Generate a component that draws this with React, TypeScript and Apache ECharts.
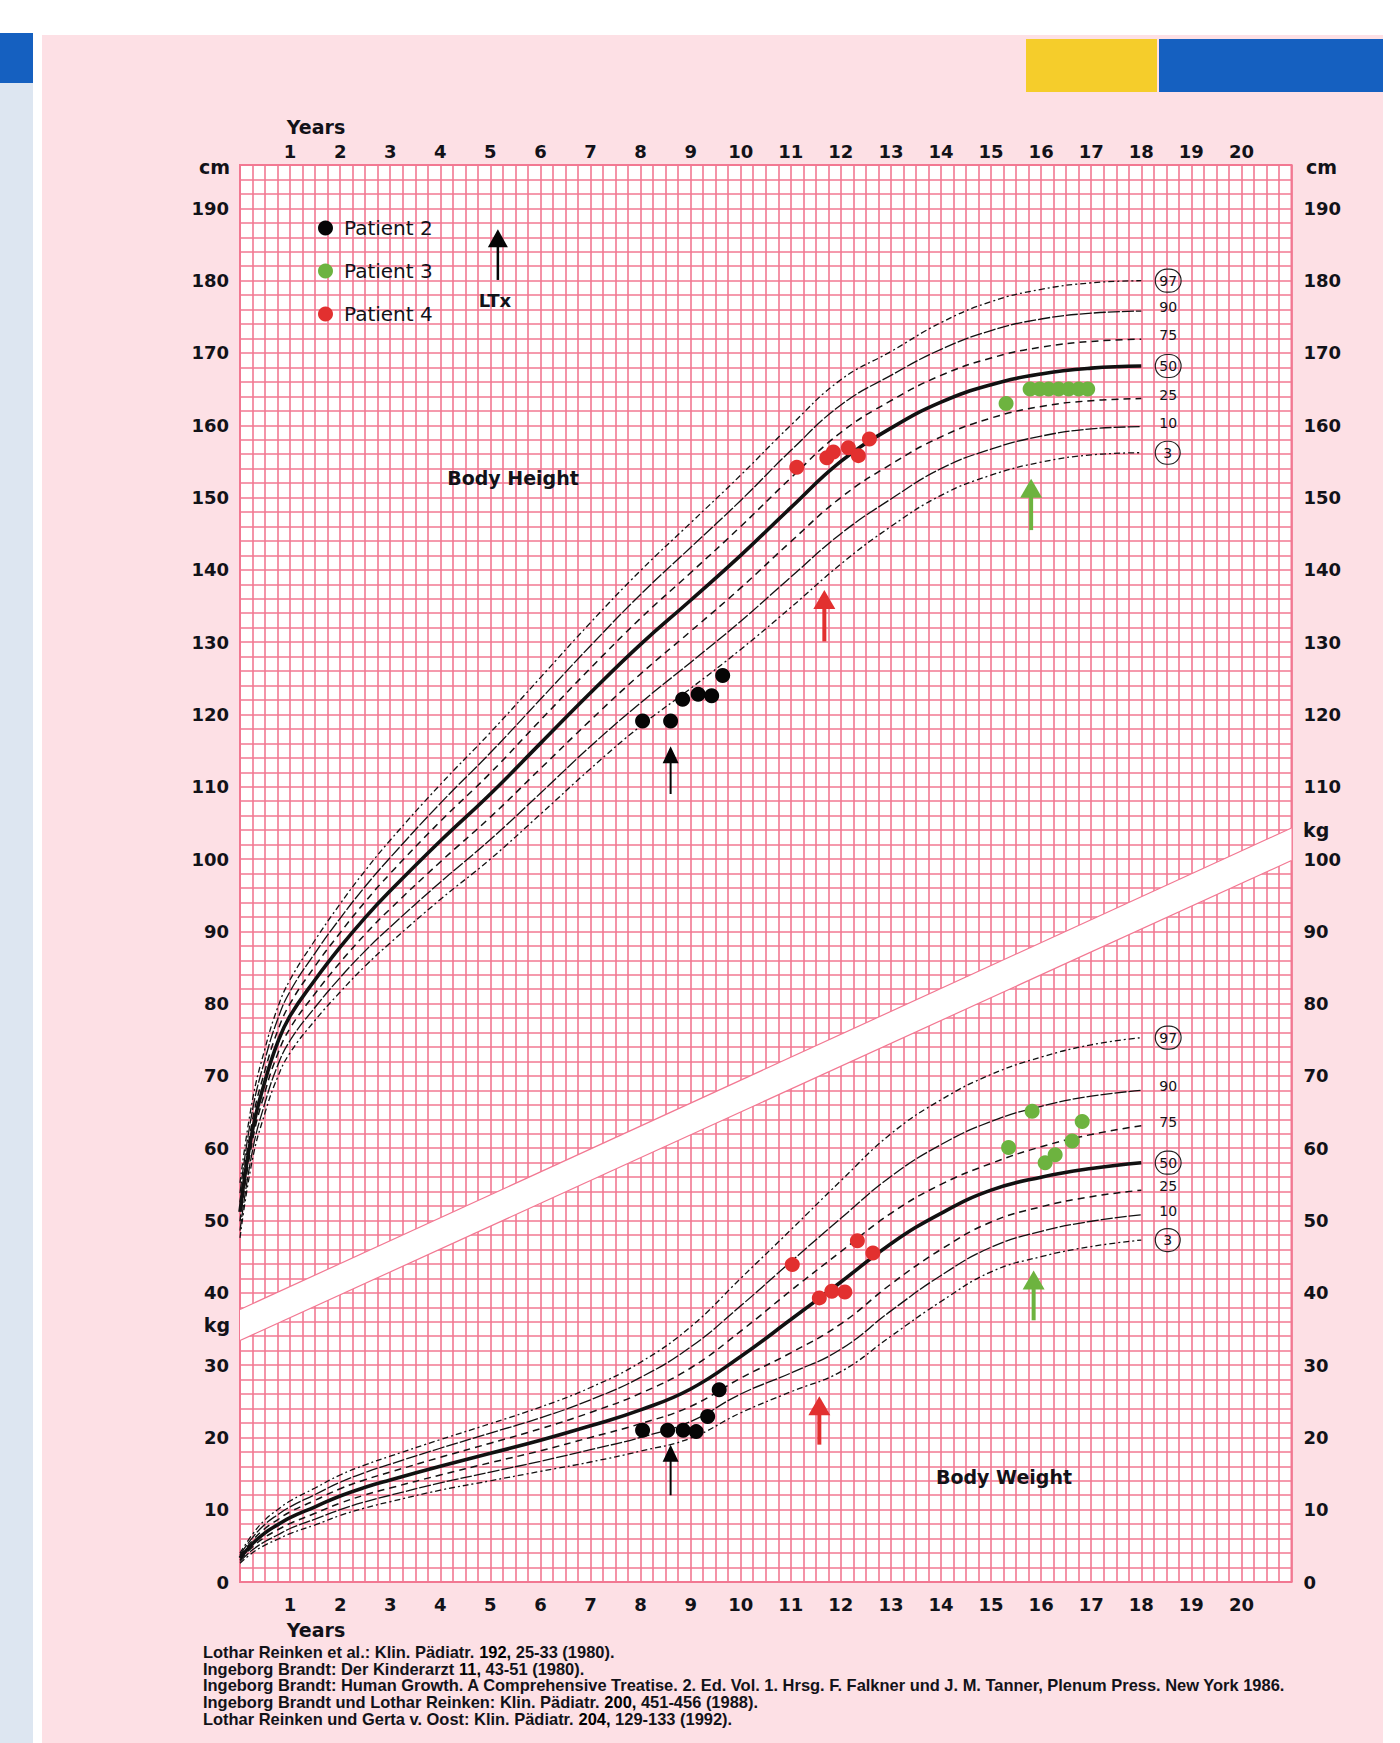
import { useEffect, useRef } from "react";
import * as echarts from "echarts";

// Ages (years) at which the reference percentile curves are tabulated
const AGES = [0, 0.25, 0.5, 0.75, 1, 1.5, 2, 2.5, 3, 4, 5, 6, 7, 8, 9, 10, 11, 12, 13, 14, 15, 16, 17, 18];

// Body height percentiles (cm)
const HEIGHT_P97 = [55.2, 66.7, 73.8, 79.4, 83.3, 88.8, 93.8, 98.4, 102.6, 110.3, 117.5, 125.1, 132.7, 139.9, 146.5, 153.1, 160.0, 166.3, 170.2, 174.2, 177.1, 178.8, 179.7, 180.0];
const HEIGHT_P90 = [53.8, 65.3, 72.3, 77.8, 81.7, 87.0, 91.8, 96.2, 100.2, 107.7, 114.7, 122.1, 129.5, 136.6, 143.1, 149.6, 156.5, 162.8, 166.9, 170.5, 173.1, 174.7, 175.5, 175.8];
const HEIGHT_P75 = [52.5, 63.9, 70.8, 76.2, 80.0, 85.2, 89.8, 94.1, 98.0, 105.2, 111.9, 119.2, 126.4, 133.3, 139.6, 146.0, 152.7, 159.0, 163.4, 166.9, 169.3, 170.8, 171.6, 171.9];
const HEIGHT_P50 = [51.2, 62.5, 69.3, 74.6, 78.3, 83.3, 87.8, 91.9, 95.6, 102.5, 109.0, 116.0, 123.0, 129.7, 135.8, 142.0, 148.6, 155.0, 159.6, 163.2, 165.6, 167.1, 167.9, 168.2];
const HEIGHT_P25 = [49.9, 61.1, 67.8, 73.0, 76.6, 81.4, 85.7, 89.6, 93.1, 99.6, 105.8, 112.5, 119.2, 125.6, 131.5, 137.5, 143.9, 150.0, 154.6, 158.4, 161.0, 162.6, 163.4, 163.7];
const HEIGHT_P10 = [48.6, 59.7, 66.3, 71.4, 74.9, 79.5, 83.6, 87.3, 90.6, 96.8, 102.7, 109.1, 115.6, 121.6, 127.2, 132.9, 139.0, 145.0, 149.8, 154.0, 156.7, 158.5, 159.5, 159.8];
const HEIGHT_P3 = [47.6, 58.5, 64.9, 69.8, 73.2, 77.7, 81.6, 85.2, 88.4, 94.4, 100.0, 106.2, 112.5, 118.4, 123.6, 129.0, 134.8, 140.8, 146.0, 150.3, 153.1, 154.9, 155.9, 156.2];

// Body weight percentiles (kg)
const WEIGHT_P97 = [4.0, 6.6, 8.6, 10.0, 11.2, 13.0, 14.8, 16.2, 17.4, 19.7, 21.9, 24.2, 26.9, 30.4, 35.3, 42.0, 48.7, 55.5, 62.0, 66.7, 70.2, 72.6, 74.3, 75.3];
const WEIGHT_P90 = [3.75, 6.15, 8.0, 9.3, 10.4, 12.1, 13.8, 15.15, 16.3, 18.5, 20.6, 22.7, 25.2, 28.3, 32.5, 38.2, 44.3, 50.3, 56.1, 60.5, 63.7, 65.8, 67.2, 68.0];
const WEIGHT_P75 = [3.55, 5.75, 7.4, 8.6, 9.7, 11.3, 12.9, 14.15, 15.2, 17.25, 19.2, 21.2, 23.45, 26.1, 29.6, 34.7, 40.3, 45.7, 51.0, 55.0, 57.9, 60.2, 61.9, 63.1];
const WEIGHT_P50 = [3.3, 5.3, 6.8, 7.9, 8.9, 10.4, 11.9, 13.1, 14.1, 16.0, 17.8, 19.6, 21.6, 23.8, 26.7, 31.2, 36.3, 41.5, 46.8, 51.0, 54.2, 56.0, 57.2, 58.0];
const WEIGHT_P25 = [3.05, 4.85, 6.2, 7.2, 8.1, 9.5, 10.9, 12.05, 13.0, 14.8, 16.5, 18.15, 20.0, 21.9, 24.3, 28.2, 31.7, 35.7, 41.2, 46.0, 49.8, 51.9, 53.3, 54.2];
const WEIGHT_P10 = [2.85, 4.45, 5.6, 6.5, 7.4, 8.7, 10.0, 11.1, 12.0, 13.7, 15.2, 16.7, 18.3, 20.0, 22.2, 26.0, 28.9, 32.2, 37.5, 42.4, 46.3, 48.5, 49.9, 50.8];
const WEIGHT_P3 = [2.6, 4.05, 5.1, 5.9, 6.7, 7.9, 9.2, 10.25, 11.1, 12.7, 14.0, 15.3, 16.6, 18.1, 19.9, 23.4, 26.3, 29.1, 34.0, 38.8, 42.9, 45.0, 46.4, 47.3];

const PERCENTILES = ["97", "90", "75", "50", "25", "10", "3"];
const CIRCLED = ["97", "50", "3"];

// Patient measurements: [age, value]
const PATIENT2_HEIGHT_AGE = [8.04, 8.6, 8.84, 9.15, 9.42, 9.64];
const PATIENT2_HEIGHT = [119.1, 119.1, 122.1, 122.8, 122.6, 125.4];
const PATIENT2_WEIGHT_AGE = [8.04, 8.54, 8.85, 9.11, 9.34, 9.57];
const PATIENT2_WEIGHT = [21.0, 21.0, 21.0, 20.8, 22.9, 26.6];

const PATIENT3_HEIGHT_AGE = [15.3, 15.78, 15.97, 16.15, 16.35, 16.55, 16.75, 16.93];
const PATIENT3_HEIGHT = [163.0, 165.0, 165.0, 165.0, 165.0, 165.0, 165.0, 165.0];
const PATIENT3_WEIGHT_AGE = [15.35, 15.82, 16.08, 16.28, 16.62, 16.82];
const PATIENT3_WEIGHT = [60.1, 65.1, 58.0, 59.1, 61.0, 63.7];

const PATIENT4_HEIGHT_AGE = [11.12, 11.72, 11.85, 12.15, 12.35, 12.57];
const PATIENT4_HEIGHT = [154.2, 155.5, 156.3, 156.9, 155.8, 158.1];
const PATIENT4_WEIGHT_AGE = [11.03, 11.57, 11.82, 12.08, 12.33, 12.64];
const PATIENT4_WEIGHT = [43.9, 39.3, 40.2, 40.1, 47.2, 45.5];

// Transplantation (LTx) markers: [age, tip value, tail value]
const PATIENT2_LTX = [[8.6, 115.6, 109.0], [8.6, 19.0, 12.0]];
const PATIENT3_LTX = [[15.8, 152.6, 145.5], [15.85, 43.1, 36.2]];
const PATIENT4_LTX = [[11.67, 137.2, 130.1], [11.57, 25.7, 19.0]];
const KEY_LTX = [[5.15, 187.1, 180.1]];

// White separator band between the height and weight panels: [age, value]
const BAND_LOWER = [[0, 33.4], [21, 99.8]];
const BAND_UPPER = [[0, 37.7], [21, 104.3]];

const CITATIONS = [
  "Lothar Reinken et al.: Klin. Pädiatr. {b|192,} 25-33 (1980).",
  "Ingeborg Brandt: Der Kinderarzt {b|11,} 43-51 (1980).",
  "Ingeborg Brandt: Human Growth. A Comprehensive Treatise. 2. Ed. Vol. 1. Hrsg. F. Falkner und J. M. Tanner, Plenum Press. New York 1986.",
  "Ingeborg Brandt und Lothar Reinken: Klin. Pädiatr. {b|200,} 451-456 (1988).",
  "Lothar Reinken und Gerta v. Oost: Klin. Pädiatr. {b|204,} 129-133 (1992).",
];

const PINK = "#f27892";
const INK = "#121218";
const FONT = '"DejaVu Sans", "Liberation Sans", sans-serif';
const CITE_FONT = '"Liberation Sans", Arial, sans-serif';

const BLACK = "#050505";
const GREEN = "#6db33f";
const RED = "#e2302f";

function pairs(xs: number[], ys: number[]) {
  return xs.map((x, i) => [x, ys[i]]);
}

function curveStyle(p: string) {
  if (p === "50") return { width: 3.6, type: "solid" };
  if (p === "90" || p === "10") return { width: 1.3, type: [12, 2] };
  if (p === "75" || p === "25") return { width: 1.5, type: [7, 5] };
  return { width: 1.3, type: [6, 3, 2, 3] };
}

function percentileSeries(kind: string, curves: number[][]) {
  return curves.map((vals, i) => {
    const p = PERCENTILES[i];
    const circled = CIRCLED.includes(p);
    const label: any = {
      show: true,
      formatter: p,
      fontFamily: FONT,
      fontSize: 14,
      color: INK,
      distance: circled ? 14 : 18,
      offset: circled ? [0, 0] : [0, -4],
    };
    if (circled) {
      label.borderColor = "#222";
      label.borderWidth = 1.2;
      label.borderRadius = 13;
      label.padding = p.length === 1 ? [5, 8, 4, 8] : [5, 4, 4, 4];
    }
    return {
      type: "line",
      name: `${kind} P${p}`,
      data: pairs(AGES, vals),
      showSymbol: false,
      smooth: 0.45,
      silent: true,
      z: 3,
      lineStyle: { color: "#111", ...curveStyle(p) },
      endLabel: label,
    };
  });
}

function patientSeries(name: string, color: string, data: number[][]) {
  return {
    type: "scatter",
    name,
    data,
    symbol: "circle",
    symbolSize: 15,
    itemStyle: { color, opacity: 1 },
    z: 5,
    silent: true,
  };
}

function arrowSeries(name: string, arrows: number[][], color: string, shaft: number, headW: number, headH: number) {
  return {
    type: "custom",
    name,
    data: arrows,
    encode: { x: 0, y: [1, 2] },
    silent: true,
    z: 6,
    renderItem: (_params: any, api: any) => {
      const tip = api.coord([api.value(0), api.value(1)]);
      const tail = api.coord([api.value(0), api.value(2)]);
      return {
        type: "group",
        children: [
          {
            type: "line",
            shape: { x1: tail[0], y1: tail[1], x2: tip[0], y2: tip[1] + headH * 0.8 },
            style: { stroke: color, lineWidth: shaft },
          },
          {
            type: "polygon",
            shape: {
              points: [
                [tip[0], tip[1]],
                [tip[0] - headW / 2, tip[1] + headH],
                [tip[0] + headW / 2, tip[1] + headH],
              ],
            },
            style: { fill: color },
          },
        ],
      };
    },
  };
}

function bandSeries() {
  return {
    type: "custom",
    name: "separator",
    data: [[0, 35]],
    encode: { x: 0, y: 1 },
    silent: true,
    z: 2,
    renderItem: (_params: any, api: any) => {
      const a = api.coord(BAND_LOWER[0]);
      const b = api.coord(BAND_LOWER[1]);
      const c = api.coord(BAND_UPPER[1]);
      const d = api.coord(BAND_UPPER[0]);
      return {
        type: "group",
        children: [
          { type: "polygon", shape: { points: [a, b, c, d] }, style: { fill: "#ffffff" } },
          { type: "line", shape: { x1: a[0], y1: a[1], x2: b[0], y2: b[1] }, style: { stroke: PINK, lineWidth: 1.2 } },
          { type: "line", shape: { x1: d[0], y1: d[1], x2: c[0], y2: c[1] }, style: { stroke: PINK, lineWidth: 1.2 } },
        ],
      };
    },
  };
}

const yearLabel = (v: number) => (Number.isInteger(v) && v >= 1 && v <= 20 ? String(v) : "");
const valueLabel = (v: number) => (v % 10 === 0 && v <= 190 ? String(v) : "");

function text(x: number, y: number, t: string, opts: any = {}) {
  return {
    type: "text",
    x,
    y,
    z: 10,
    silent: true,
    style: {
      text: t,
      fill: INK,
      fontFamily: FONT,
      fontSize: 19,
      textAlign: "center",
      textVerticalAlign: "middle",
      ...opts,
    },
  };
}

export default function App() {
  const ref = useRef<HTMLDivElement>(null);

  useEffect(() => {
    if (!ref.current) return;
    const chart = echarts.init(ref.current, null, { renderer: "svg" });

    // Fit the longest reference line to the citation block width
    let citeScale = 0.85;
    const ctx = document.createElement("canvas").getContext("2d");
    if (ctx) {
      ctx.font = `bold 17px ${CITE_FONT}`;
      const w = ctx.measureText(CITATIONS[2]).width;
      if (w > 0) citeScale = 1084 / w;
    }

    const axisText = { fontFamily: FONT, fontSize: 18, fontWeight: "bold", color: INK };

    chart.setOption({
      animation: false,
      backgroundColor: "#ffffff",
      grid: {
        left: 240,
        top: 165,
        width: 1051.5,
        height: 1417,
        show: true,
        backgroundColor: "#ffffff",
        borderColor: PINK,
        borderWidth: 2,
      },
      legend: {
        data: ["Patient 2", "Patient 3", "Patient 4"],
        orient: "vertical",
        left: 313,
        top: 213,
        icon: "circle",
        itemWidth: 15,
        itemHeight: 15,
        itemGap: 23,
        selectedMode: false,
        textStyle: { fontFamily: FONT, fontSize: 20, color: INK, padding: [0, 0, 0, 6] },
      },
      xAxis: [
        {
          type: "value",
          position: "bottom",
          min: 0,
          max: 21,
          interval: 0.25,
          axisLine: { show: false },
          axisTick: { show: false },
          splitLine: { show: true, lineStyle: { color: PINK, width: 1.6 } },
          axisLabel: { ...axisText, formatter: yearLabel, margin: 13 },
        },
        {
          type: "value",
          position: "top",
          min: 0,
          max: 21,
          interval: 0.25,
          axisLine: { show: false },
          axisTick: { show: false },
          splitLine: { show: false },
          axisLabel: { ...axisText, formatter: yearLabel, margin: 5 },
        },
      ],
      yAxis: [
        {
          type: "value",
          position: "left",
          min: 0,
          max: 196,
          interval: 2,
          axisLine: { show: false },
          axisTick: { show: false },
          splitLine: { show: true, lineStyle: { color: PINK, width: 1.6 } },
          axisLabel: { ...axisText, formatter: valueLabel, margin: 11 },
        },
        {
          type: "value",
          position: "right",
          min: 0,
          max: 196,
          interval: 2,
          axisLine: { show: false },
          axisTick: { show: false },
          splitLine: { show: false },
          axisLabel: { ...axisText, formatter: valueLabel, margin: 12 },
        },
      ],
      graphic: [
        // page furniture
        { type: "rect", z: -10, silent: true, shape: { x: 42, y: 35, width: 1341, height: 1708 }, style: { fill: "#fde0e5" } },
        { type: "rect", z: -10, silent: true, shape: { x: 0, y: 33, width: 33, height: 50 }, style: { fill: "#1560c0" } },
        { type: "rect", z: -10, silent: true, shape: { x: 0, y: 83, width: 33, height: 1660 }, style: { fill: "#dde6f1" } },
        { type: "rect", z: -10, silent: true, shape: { x: 1026, y: 39, width: 131, height: 53 }, style: { fill: "#f5cd2b" } },
        { type: "rect", z: -10, silent: true, shape: { x: 1159, y: 39, width: 224, height: 53 }, style: { fill: "#1560c0" } },
        // axis captions
        text(316, 127, "Years", { fontSize: 19, fontWeight: "bold" }),
        text(316, 1630, "Years", { fontSize: 19, fontWeight: "bold" }),
        text(230, 167, "cm", { textAlign: "right", fontSize: 19, fontWeight: "bold" }),
        text(1306, 167, "cm", { textAlign: "left", fontSize: 19, fontWeight: "bold" }),
        text(230, 1325, "kg", { textAlign: "right", fontSize: 19, fontWeight: "bold" }),
        text(1303, 830, "kg", { textAlign: "left", fontSize: 19, fontWeight: "bold" }),
        text(513, 478, "Body Height", { fontWeight: "bold", fontSize: 19 }),
        text(1004, 1477, "Body Weight", { fontWeight: "bold", fontSize: 19 }),
        text(495, 300, "LTx", { fontWeight: "bold", fontSize: 18 }),
        // references
        ...CITATIONS.map((line, i) => ({
          type: "text",
          x: 203,
          y: [1652, 1669, 1685, 1702, 1719][i],
          scaleX: citeScale,
          z: 10,
          silent: true,
          style: {
            text: line,
            fill: INK,
            fontFamily: CITE_FONT,
            fontSize: 17,
            fontWeight: "bold",
            textAlign: "left",
            textVerticalAlign: "middle",
            rich: { b: { fontFamily: CITE_FONT, fontSize: 17, fontWeight: "bold", fill: "#000" } },
          },
        })),
      ],
      series: [
        bandSeries(),
        ...percentileSeries("Height", [HEIGHT_P97, HEIGHT_P90, HEIGHT_P75, HEIGHT_P50, HEIGHT_P25, HEIGHT_P10, HEIGHT_P3]),
        ...percentileSeries("Weight", [WEIGHT_P97, WEIGHT_P90, WEIGHT_P75, WEIGHT_P50, WEIGHT_P25, WEIGHT_P10, WEIGHT_P3]),
        patientSeries("Patient 2", BLACK, pairs(PATIENT2_HEIGHT_AGE, PATIENT2_HEIGHT)),
        patientSeries("Patient 2", BLACK, pairs(PATIENT2_WEIGHT_AGE, PATIENT2_WEIGHT)),
        patientSeries("Patient 3", GREEN, pairs(PATIENT3_HEIGHT_AGE, PATIENT3_HEIGHT)),
        patientSeries("Patient 3", GREEN, pairs(PATIENT3_WEIGHT_AGE, PATIENT3_WEIGHT)),
        patientSeries("Patient 4", RED, pairs(PATIENT4_HEIGHT_AGE, PATIENT4_HEIGHT)),
        patientSeries("Patient 4", RED, pairs(PATIENT4_WEIGHT_AGE, PATIENT4_WEIGHT)),
        arrowSeries("LTx key", KEY_LTX, BLACK, 2.5, 20, 18),
        arrowSeries("LTx P2", PATIENT2_LTX, BLACK, 2, 16, 17),
        arrowSeries("LTx P3", PATIENT3_LTX, GREEN, 4, 22, 19),
        arrowSeries("LTx P4", PATIENT4_LTX, RED, 4, 22, 19),
      ],
    });

    return () => chart.dispose();
  }, []);

  return <div ref={ref} style={{ position: "absolute", left: 0, top: 0, width: 1400, height: 1743 }} />;
}
